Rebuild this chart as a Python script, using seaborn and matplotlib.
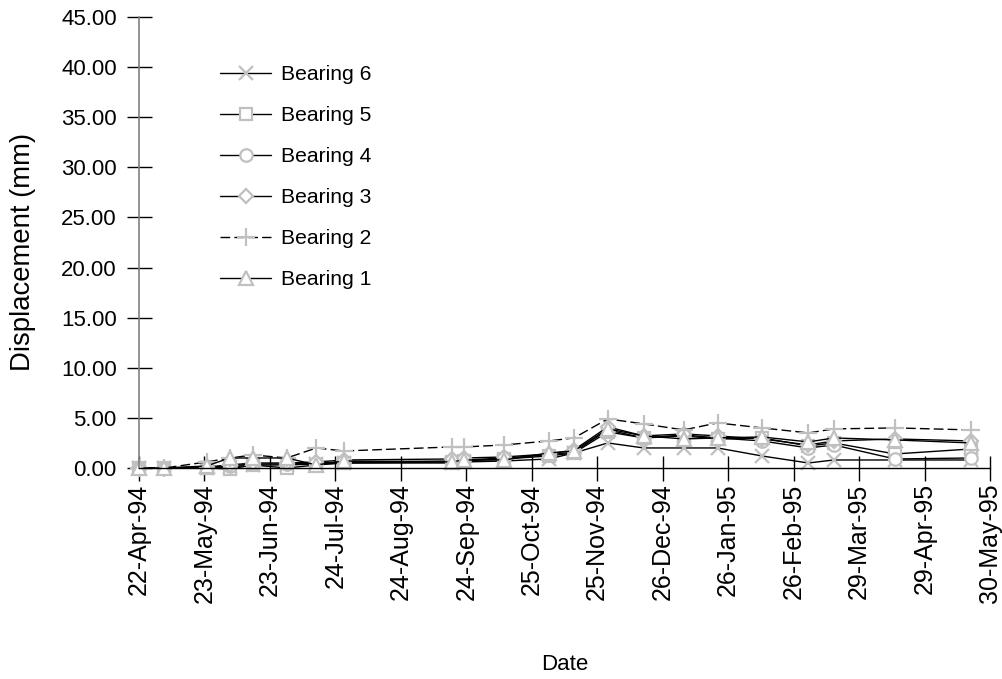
import numpy as np
import pandas as pd
import matplotlib
matplotlib.use("Agg")
import matplotlib.pyplot as plt
import seaborn as sns

# ---- data ----
dates = ["22-Apr-94", "04-May-94", "24-May-94", "04-Jun-94", "15-Jun-94", "01-Jul-94",
         "15-Jul-94", "28-Jul-94", "17-Sep-94", "23-Sep-94", "12-Oct-94", "02-Nov-94",
         "14-Nov-94", "30-Nov-94", "17-Dec-94", "05-Jan-95", "21-Jan-95", "11-Feb-95",
         "05-Mar-95", "17-Mar-95", "15-Apr-95", "21-May-95"]

bearing1 = [0.0, 0.0, 0.2, 1.0, 1.0, 1.0, 0.3, 0.7, 0.6, 0.8, 0.8, 1.5, 1.7, 3.9, 3.2, 2.9, 3.0, 3.1, 2.6, 3.0, 2.8, 2.5]
bearing2 = [0.0, 0.0, 0.6, 1.0, 1.3, 1.0, 2.0, 1.7, 2.1, 2.1, 2.3, 2.7, 3.0, 4.9, 4.4, 3.8, 4.5, 4.0, 3.5, 3.9, 4.0, 3.8]
bearing3 = [0.0, 0.0, 0.1, 0.3, 0.5, 0.5, 0.6, 0.8, 0.9, 1.0, 1.1, 1.4, 1.8, 4.1, 3.2, 3.4, 3.2, 2.9, 2.3, 2.7, 2.9, 2.7]
bearing4 = [0.0, 0.0, 0.1, 0.2, 0.4, 0.4, 0.5, 0.6, 0.7, 0.8, 1.0, 1.3, 1.6, 3.8, 3.0, 3.3, 3.0, 2.7, 2.0, 2.3, 0.9, 1.0]
bearing5 = [0.0, 0.0, 0.0, -0.1, 0.3, 0.0, 0.3, 0.5, 0.6, 0.7, 0.9, 1.2, 1.5, 3.6, 3.0, 3.2, 2.9, 3.0, 2.2, 2.5, 1.4, 1.9]
bearing6 = [0.0, 0.0, 0.0, 0.1, 0.3, 0.3, 0.4, 0.5, 0.5, 0.6, 0.7, 0.9, 1.5, 2.5, 2.0, 2.0, 2.0, 1.2, 0.5, 0.8, 0.8, 0.8]

series_names = ["Bearing 6", "Bearing 5", "Bearing 4", "Bearing 3", "Bearing 2", "Bearing 1"]
series_values = [bearing6, bearing5, bearing4, bearing3, bearing2, bearing1]

x_tick_labels = ["22-Apr-94", "23-May-94", "23-Jun-94", "24-Jul-94", "24-Aug-94", "24-Sep-94",
                 "25-Oct-94", "25-Nov-94", "26-Dec-94", "26-Jan-95", "26-Feb-95", "29-Mar-95",
                 "29-Apr-95", "30-May-95"]
y_ticks = [0, 5, 10, 15, 20, 25, 30, 35, 40, 45]

# ---- style ----
sns.set_theme(style="white")
plt.rcParams["font.family"] = ["Liberation Sans", "DejaVu Sans"]
plt.rcParams.update({"text.color": "black", "axes.labelcolor": "black",
                     "xtick.color": "black", "ytick.color": "black"})

markers = {"Bearing 6": "x", "Bearing 5": "s", "Bearing 4": "o",
           "Bearing 3": "D", "Bearing 2": "+", "Bearing 1": "^"}
msize = {"Bearing 6": 10, "Bearing 5": 8, "Bearing 4": 9,
         "Bearing 3": 7, "Bearing 2": 13, "Bearing 1": 10}
mgray = "#c0c0c0"

W, H = 1003, 679
L, R, T, B = 139, 990, 17, 468
fig = plt.figure(figsize=(W / 100, H / 100), dpi=100)
ax = fig.add_axes([L / W, 1 - B / H, (R - L) / W, (B - T) / H])

xd = pd.to_datetime(dates, format="%d-%b-%y")
df = pd.DataFrame({"Date": np.tile(xd, len(series_names)),
                   "Displacement": np.concatenate(series_values),
                   "Series": np.repeat(series_names, len(dates))})

handles = []
for name in series_names:
    sub = df[df["Series"] == name]
    ls = (0, (7, 3)) if name == "Bearing 2" else "-"
    sns.lineplot(data=sub, x="Date", y="Displacement", ax=ax, color="black",
                 linewidth=1.0, linestyle=ls, marker=markers[name],
                 markersize=msize[name], markeredgecolor=mgray,
                 markerfacecolor="white", markeredgewidth=1.6,
                 sort=False, estimator=None, errorbar=None, label=name,
                 clip_on=False)
    handles.append(ax.lines[-1])

tick_dates = pd.to_datetime(x_tick_labels, format="%d-%b-%y")
ax.set_xlim(tick_dates[0], tick_dates[-1])
ax.set_xticks(tick_dates)
ax.set_xticklabels(x_tick_labels, rotation=90, fontsize=18)
ax.set_ylim(0, 45)
ax.set_yticks(y_ticks)
ax.set_yticklabels([f"{v:.2f}" for v in y_ticks], fontsize=16)

ax.tick_params(axis="both", which="major", direction="inout", length=18,
               width=1.0, color="black", left=True, bottom=True)
ax.tick_params(axis="y", pad=7)
ax.tick_params(axis="x", pad=2)

for s in ["top", "right"]:
    ax.spines[s].set_visible(False)
ax.spines["left"].set_color("#808080")
ax.spines["left"].set_linewidth(1.2)
ax.spines["bottom"].set_color("black")
ax.spines["bottom"].set_linewidth(1.0)
ax.grid(False)

ax.set_xlabel("Date", fontsize=16)
ax.xaxis.set_label_coords(0.5, -(654 - B) / (B - T))
ax.set_ylabel("Displacement (mm)", fontsize=19.8)
ax.yaxis.set_label_coords(-(L - 36) / (R - L), (B - 252) / (B - T))

leg = ax.legend(handles=handles, labels=series_names, loc="upper left",
                bbox_to_anchor=(212 / W, 1 - 57 / H), bbox_transform=fig.transFigure,
                frameon=False, fontsize=15.2, handlelength=2.4, handletextpad=0.45,
                labelspacing=1.04, borderaxespad=0)

fig.savefig("out.png", dpi=100)
